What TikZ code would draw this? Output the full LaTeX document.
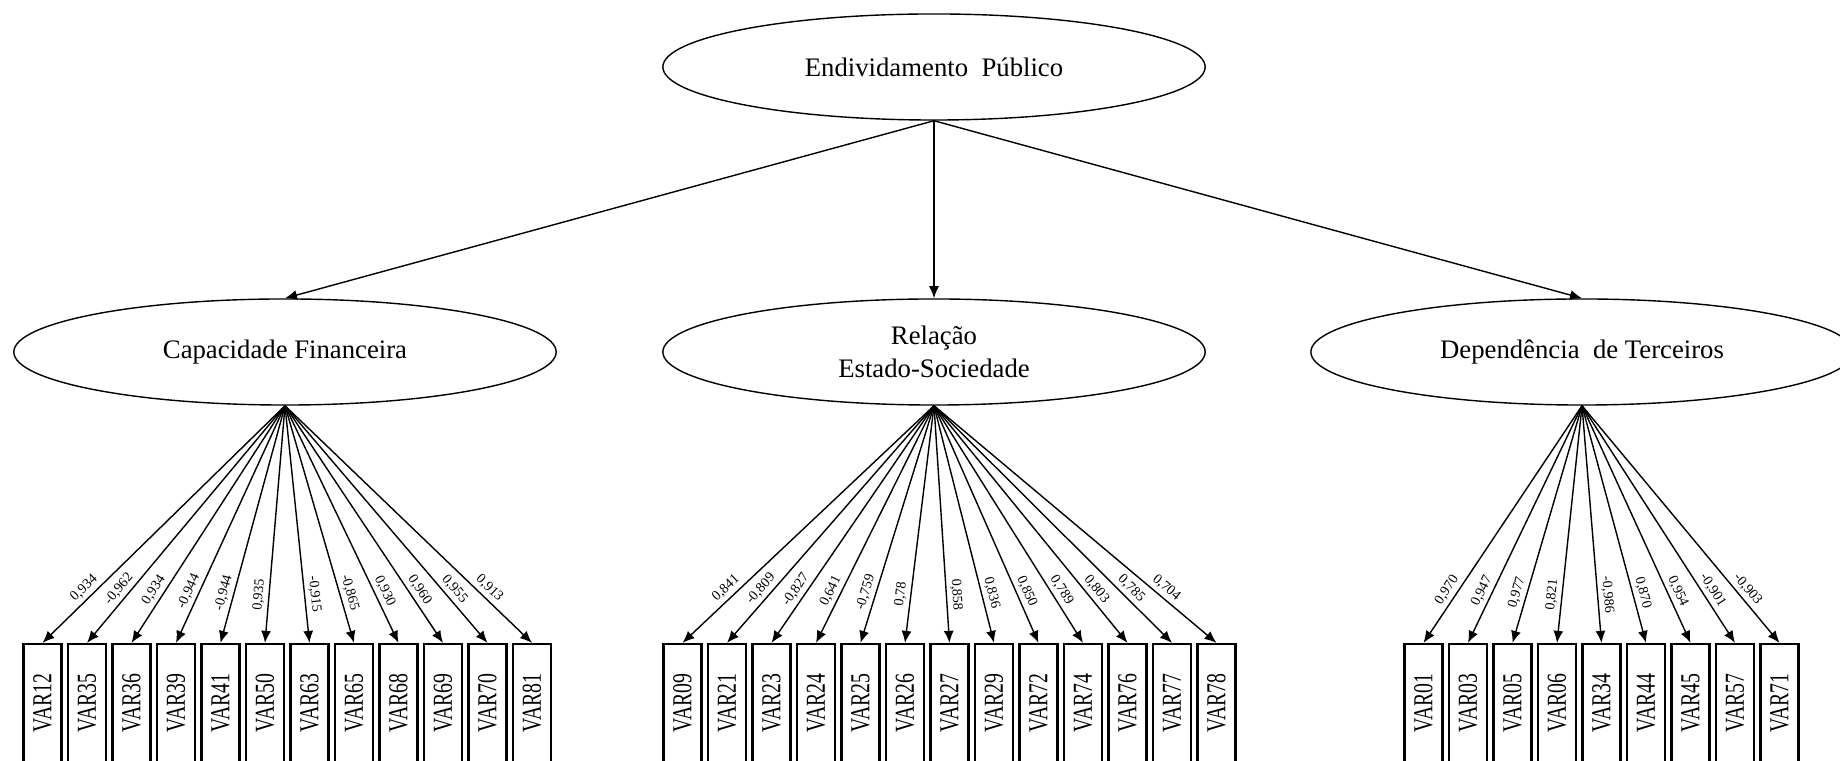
\documentclass[tikz,border=0pt]{standalone}
\usepackage{fontspec}
\setmainfont{Liberation Serif}
\usepackage{graphicx}
\usetikzlibrary{arrows.meta,shapes.geometric}

\tikzset{
  latent/.style={draw,ellipse,minimum width=5.42cm,minimum height=1.06cm,inner sep=0pt,align=center,font=\fontsize{7.6}{9.5}\selectfont},
  varbox/.style={draw,line width=.6pt,minimum width=.38cm,minimum height=1.18cm,inner sep=0pt,font=\fontsize{7.8}{9}\selectfont},
  coef/.style={sloped,above,pos=.8,inner sep=1pt,font=\fontsize{4}{5}\selectfont}
}

\begin{document}
\begin{tikzpicture}[x=.01cm,y=.01cm,>={Latex[length=.12cm,width=.1cm]}]
\useasboundingbox (0,0) rectangle (1840,761);
% fatores
\node[latent] (ep) at (934,694) {Endividamento\ \ Público};
\node[latent] (cf) at (285,409) {Capacidade Financeira};
\node[latent] (re) at (934,409) {Relação\\Estado-Sociedade};
\node[latent] (dt) at (1582,409) {Dependência\ \ de Terceiros};
\draw[->] (ep.south)--(cf.north);\draw[->] (ep.south)--(re.north);\draw[->] (ep.south)--(dt.north);
% capacidade financeira
\foreach \v/\l [count=\n] in {12/{0,934},35/{-0,962},36/{0,934},39/{-0,944},41/{-0,944},50/{0,935},63/{-0,915},65/{-0,865},68/{0,930},69/{0,960},70/{0,955},81/{0,913}}{
  \node[varbox] (cf\n) at ({42.5+44.5*(\n-1)},58) {\rotatebox{90}{\scalebox{.72}[1]{VAR\v}}};
  \draw[->] (cf.south)-- node[coef]{\l} (cf\n.north);
}
% relacao estado-sociedade
\foreach \v/\l [count=\n] in {09/{0,841},21/{-0,809},23/{-0,827},24/{0,641},25/{-0,759},26/{0,78},27/{0,858},29/{0,836},72/{0,850},74/{0,789},76/{0,803},77/{0,785},78/{0,704}}{
  \node[varbox] (re\n) at ({682.5+44.5*(\n-1)},58) {\rotatebox{90}{\scalebox{.72}[1]{VAR\v}}};
  \draw[->] (re.south)-- node[coef]{\l} (re\n.north);
}
% dependencia de terceiros
\foreach \v/\l [count=\n] in {01/{0,970},03/{0,947},05/{0,977},06/{0,821},34/{-0,986},44/{0,870},45/{0,954},57/{-0,901},71/{-0,903}}{
  \node[varbox] (dt\n) at ({1423.5+44.5*(\n-1)},58) {\rotatebox{90}{\scalebox{.72}[1]{VAR\v}}};
  \draw[->] (dt.south)-- node[coef]{\l} (dt\n.north);
}
\end{tikzpicture}
\end{document}
